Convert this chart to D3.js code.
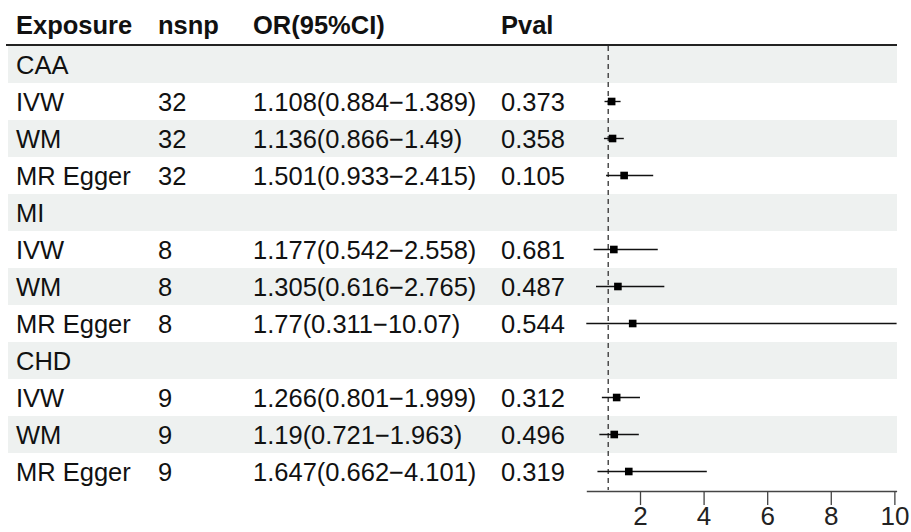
<!DOCTYPE html>
<meta charset="utf-8">
<head>
  <title>Forest plot</title>
</head>

<style>
body { margin: 0; background: white; }
text {
  font-family: "Liberation Sans", Arial, Helvetica, sans-serif;
  fill: #111;
  font-size: 25.5px;
}
.head text { font-weight: bold; }
.shade { fill: #eef1f0; }
.ci { stroke: #111; stroke-width: 1.4; }
.pt { fill: #000; }
.ref { stroke: #333; stroke-width: 1.3; stroke-dasharray: 5 4; }
.axis path, .axis line { stroke: #444; stroke-width: 1.3; }
.axis text { font-size: 26px; fill: #222; }
</style>

<body>
  <svg width="911" height="532"></svg>

  <script src="https://cdnjs.cloudflare.com/ajax/libs/d3/7.8.5/d3.min.js"></script>
  <script>
var exposures = ["CAA", "MI", "CHD"];
var methods = ["IVW", "WM", "MR Egger"];
var nsnp  = [[32, 32, 32], [8, 8, 8], [9, 9, 9]];
var or    = [[1.108, 1.136, 1.501], [1.177, 1.305, 1.77], [1.266, 1.19, 1.647]];
var lower = [[0.884, 0.866, 0.933], [0.542, 0.616, 0.311], [0.801, 0.721, 0.662]];
var upper = [[1.389, 1.49, 2.415], [2.558, 2.765, 10.07], [1.999, 1.963, 4.101]];
var pval  = [["0.373", "0.358", "0.105"], ["0.681", "0.487", "0.544"], ["0.312", "0.496", "0.319"]];
var headers = ["Exposure", "nsnp", "OR(95%CI)", "Pval"];
var xTicks = [2, 4, 6, 8, 10];

// flatten into table rows
var rows = [];
exposures.forEach(function(e, g) {
  rows.push({ group: true, label: e });
  methods.forEach(function(m, k) {
    rows.push({
      group: false, label: m, n: nsnp[g][k],
      or: or[g][k], lo: lower[g][k], hi: upper[g][k],
      ci: or[g][k] + "(" + lower[g][k] + "\u2212" + upper[g][k] + ")",
      p: pval[g][k]
    });
  });
});

var svg = d3.select("svg");
var colX = [16, 158, 253, 501];

var y = d3.scaleBand()
  .domain(d3.range(rows.length))
  .range([46, 46 + 37 * rows.length]);

var stats = rows.filter(function(r) { return !r.group; });
var x = d3.scaleLinear()
  .domain([d3.min(stats, function(d) { return d.lo; }), d3.max(stats, function(d) { return d.hi; })])
  .range([586.3, 896.6]);

// zebra shading
svg.selectAll("rect.shade")
  .data(rows.map(function(r, i) { return i; }).filter(function(i) { return i % 2 === 0; }))
  .enter().append("rect")
  .attr("class", "shade")
  .attr("x", 8)
  .attr("y", function(i) { return y(i); })
  .attr("width", 897 - 8)
  .attr("height", y.bandwidth());

// header
var head = svg.append("g").attr("class", "head");
head.selectAll("text")
  .data(headers)
  .enter().append("text")
  .attr("x", function(d, i) { return colX[i]; })
  .attr("y", 34)
  .text(function(d) { return d; });

svg.append("line")
  .attr("x1", 6).attr("x2", 897)
  .attr("y1", 45).attr("y2", 45)
  .attr("stroke", "#222").attr("stroke-width", 2);

// table text
var rowG = svg.selectAll("g.row")
  .data(rows)
  .enter().append("g")
  .attr("class", "row")
  .attr("transform", function(d, i) { return "translate(0," + (y(i) + y.bandwidth() / 2 + 9) + ")"; });

rowG.append("text").attr("x", colX[0]).text(function(d) { return d.label; });
rowG.filter(function(d) { return !d.group; }).each(function(d) {
  var g = d3.select(this);
  g.append("text").attr("x", colX[1]).text(d.n);
  g.append("text").attr("x", colX[2]).text(d.ci);
  g.append("text").attr("x", colX[3]).text(d.p);
});

// reference line at OR = 1
svg.append("line")
  .attr("class", "ref")
  .attr("x1", x(1)).attr("x2", x(1))
  .attr("y1", 46).attr("y2", y.range()[1]);

// CIs and points
rows.forEach(function(d, i) {
  if (d.group) return;
  var cy = y(i) + y.bandwidth() / 2;
  svg.append("line")
    .attr("class", "ci")
    .attr("x1", x(d.lo)).attr("x2", x(d.hi))
    .attr("y1", cy).attr("y2", cy);
  svg.append("rect")
    .attr("class", "pt")
    .attr("x", x(d.or) - 3.8).attr("y", cy - 3.8)
    .attr("width", 7.6).attr("height", 7.6);
});

// x axis
svg.append("g")
  .attr("class", "axis")
  .attr("transform", "translate(0," + (y.range()[1] + 1) + ")")
  .call(d3.axisBottom(x).tickValues(xTicks).tickSize(14).tickSizeOuter(0).tickPadding(2))
  .call(function(g) { g.selectAll("text").attr("font-family", null).attr("font-size", null); });
  </script>
</body>
</html>
